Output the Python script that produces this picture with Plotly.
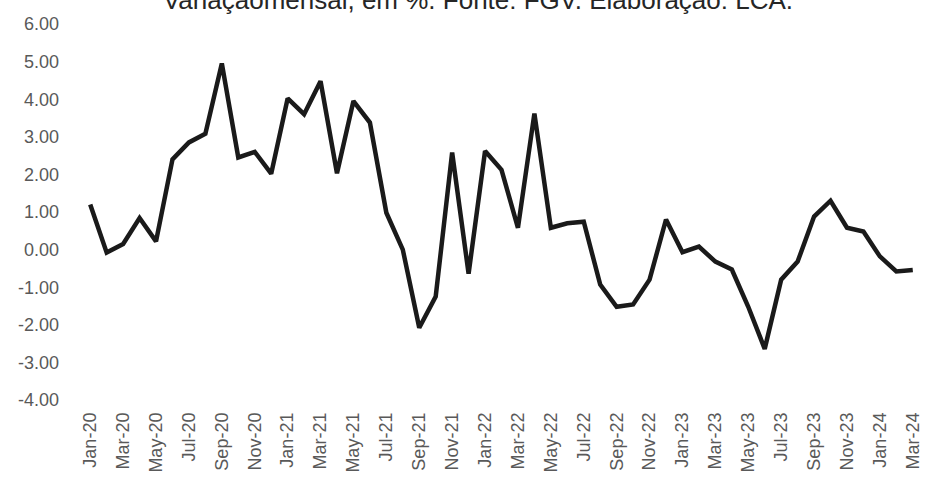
import plotly.graph_objects as go

# Monthly change (%), Jan-2020 to Mar-2024
months = [
    "Jan-20", "Feb-20", "Mar-20", "Apr-20", "May-20", "Jun-20", "Jul-20", "Aug-20", "Sep-20", "Oct-20", "Nov-20", "Dec-20",
    "Jan-21", "Feb-21", "Mar-21", "Apr-21", "May-21", "Jun-21", "Jul-21", "Aug-21", "Sep-21", "Oct-21", "Nov-21", "Dec-21",
    "Jan-22", "Feb-22", "Mar-22", "Apr-22", "May-22", "Jun-22", "Jul-22", "Aug-22", "Sep-22", "Oct-22", "Nov-22", "Dec-22",
    "Jan-23", "Feb-23", "Mar-23", "Apr-23", "May-23", "Jun-23", "Jul-23", "Aug-23", "Sep-23", "Oct-23", "Nov-23", "Dec-23",
    "Jan-24", "Feb-24", "Mar-24",
]
values = [
    1.20, -0.08, 0.15, 0.84, 0.22, 2.40, 2.85, 3.08, 4.95, 2.45, 2.60, 2.02,
    4.02, 3.60, 4.48, 2.03, 3.95, 3.38, 0.98, 0.00, -2.08, -1.25, 2.58, -0.64,
    2.62, 2.12, 0.58, 3.62, 0.58, 0.70, 0.74, -0.93, -1.52, -1.46, -0.80, 0.80,
    -0.07, 0.08, -0.32, -0.53, -1.52, -2.64, -0.80, -0.32, 0.88, 1.30, 0.58, 0.48,
    -0.18, -0.58, -0.54,
]
y_ticks = [6, 5, 4, 3, 2, 1, 0, -1, -2, -3, -4]
y_ticktext = [f"{v:.2f}" for v in y_ticks]

title_text = "Variaçãomensal, em %. Fonte: FGV. Elaboração: LCA."

idx = list(range(len(months)))
label_idx = idx[::2]
label_text = [months[i] for i in label_idx]

label_font = dict(family="Liberation Sans, Arial, sans-serif", size=18, color="#595959")
y_min, y_max = -4, 6

fig = go.Figure()
fig.add_trace(go.Scatter(
    x=idx, y=values, mode="lines",
    line=dict(color="#1a1a1a", width=4.5),
    hoverinfo="x+y", showlegend=False,
))

fig.update_layout(
    width=929, height=481,
    margin=dict(l=82, r=6, t=24, b=81),
    paper_bgcolor="white", plot_bgcolor="white",
    title=dict(
        text=title_text,
        x=478 / 929, xanchor="center", xref="container",
        y=1.0, yanchor="middle", yref="container",
        font=dict(family="Liberation Sans, Arial, sans-serif", size=26, color="#262626"),
    ),
    xaxis=dict(
        range=[-0.5, len(months) - 0.5],
        tickmode="array", tickvals=label_idx, ticktext=label_text,
        tickangle=-90, ticks="", showline=False, showgrid=False, zeroline=False,
        tickfont=label_font, ticklabelstandoff=8,
    ),
    # category axis line drawn through zero, with ticks between every second month
    xaxis2=dict(
        overlaying="x", anchor="free", position=(0 - y_min) / (y_max - y_min),
        range=[-0.5, len(months) - 0.5],
        tickmode="linear", tick0=-0.5, dtick=2,
        ticks="outside", ticklen=6, tickwidth=1.3, tickcolor="#8c8c8c",
        showline=True, linecolor="#8c8c8c", linewidth=1.5,
        showticklabels=False, showgrid=False, zeroline=False,
    ),
    yaxis=dict(
        range=[y_min, y_max],
        tickmode="array", tickvals=y_ticks, ticktext=y_ticktext,
        ticks="", showline=False, showgrid=False, zeroline=False,
        tickfont=label_font, ticklabelstandoff=22,
    ),
)

fig.write_html("out.html")
